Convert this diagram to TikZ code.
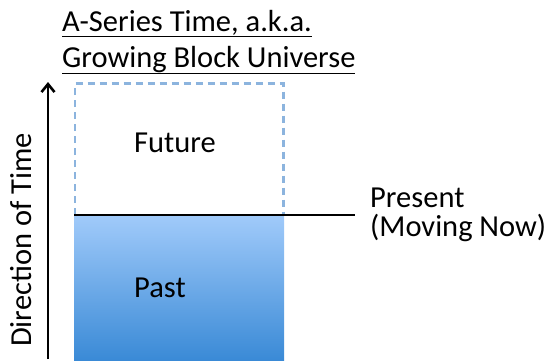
\documentclass[tikz,border=0pt]{standalone}
\usepackage{fontspec}
\setmainfont{Carlito}
\usetikzlibrary{arrows.meta}
\definecolor{dashblue}{RGB}{140,180,222}
\definecolor{topblue}{RGB}{160,202,250}
\definecolor{botblue}{RGB}{58,138,214}
\tikzset{
  lbl/.style={font=\fontsize{30.5}{36}\selectfont, inner sep=0pt, anchor=base west},
}
\begin{document}
\begin{tikzpicture}[x=1pt,y=-1pt]
\useasboundingbox (0,0) rectangle (548,362);
% past block
\shade[top color=topblue, bottom color=botblue] (74,216) rectangle (284,360);
% future dashed box
\draw[dashblue, line width=2.6pt, dash pattern=on 7pt off 5pt] (75,215) -- (75,83.5) -- (283.5,83.5) -- (283.5,215);
% present line
\coordinate (pl) at (74,215);
\coordinate (pr) at (355,215);
\draw[line width=2.8pt] (pl) -- (pr);
% arrow
\coordinate (ab) at (48,359);
\coordinate (at) at (48,82);
\draw[line width=2.6pt, -{Straight Barb[length=8pt,width=13pt]}] (ab) -- (at);
% texts
\node[lbl] (t1) at (62,31) {\underline{A-Series Time, a.k.a.}};
\node[lbl] (t2) at (62,67) {\underline{Growing Block Universe}};
\node[lbl] (fut) at (134,152) {Future};
\node[lbl] (past) at (134,297) {Past};
\node[lbl] (pres) at (370,207) {Present};
\node[lbl] (mov) at (370,236) {(Moving Now)};
\node[font=\fontsize{30.5}{36}\selectfont, inner sep=0pt, rotate=90] (dir) at (21,240) {Direction of Time};
\end{tikzpicture}
\end{document}
